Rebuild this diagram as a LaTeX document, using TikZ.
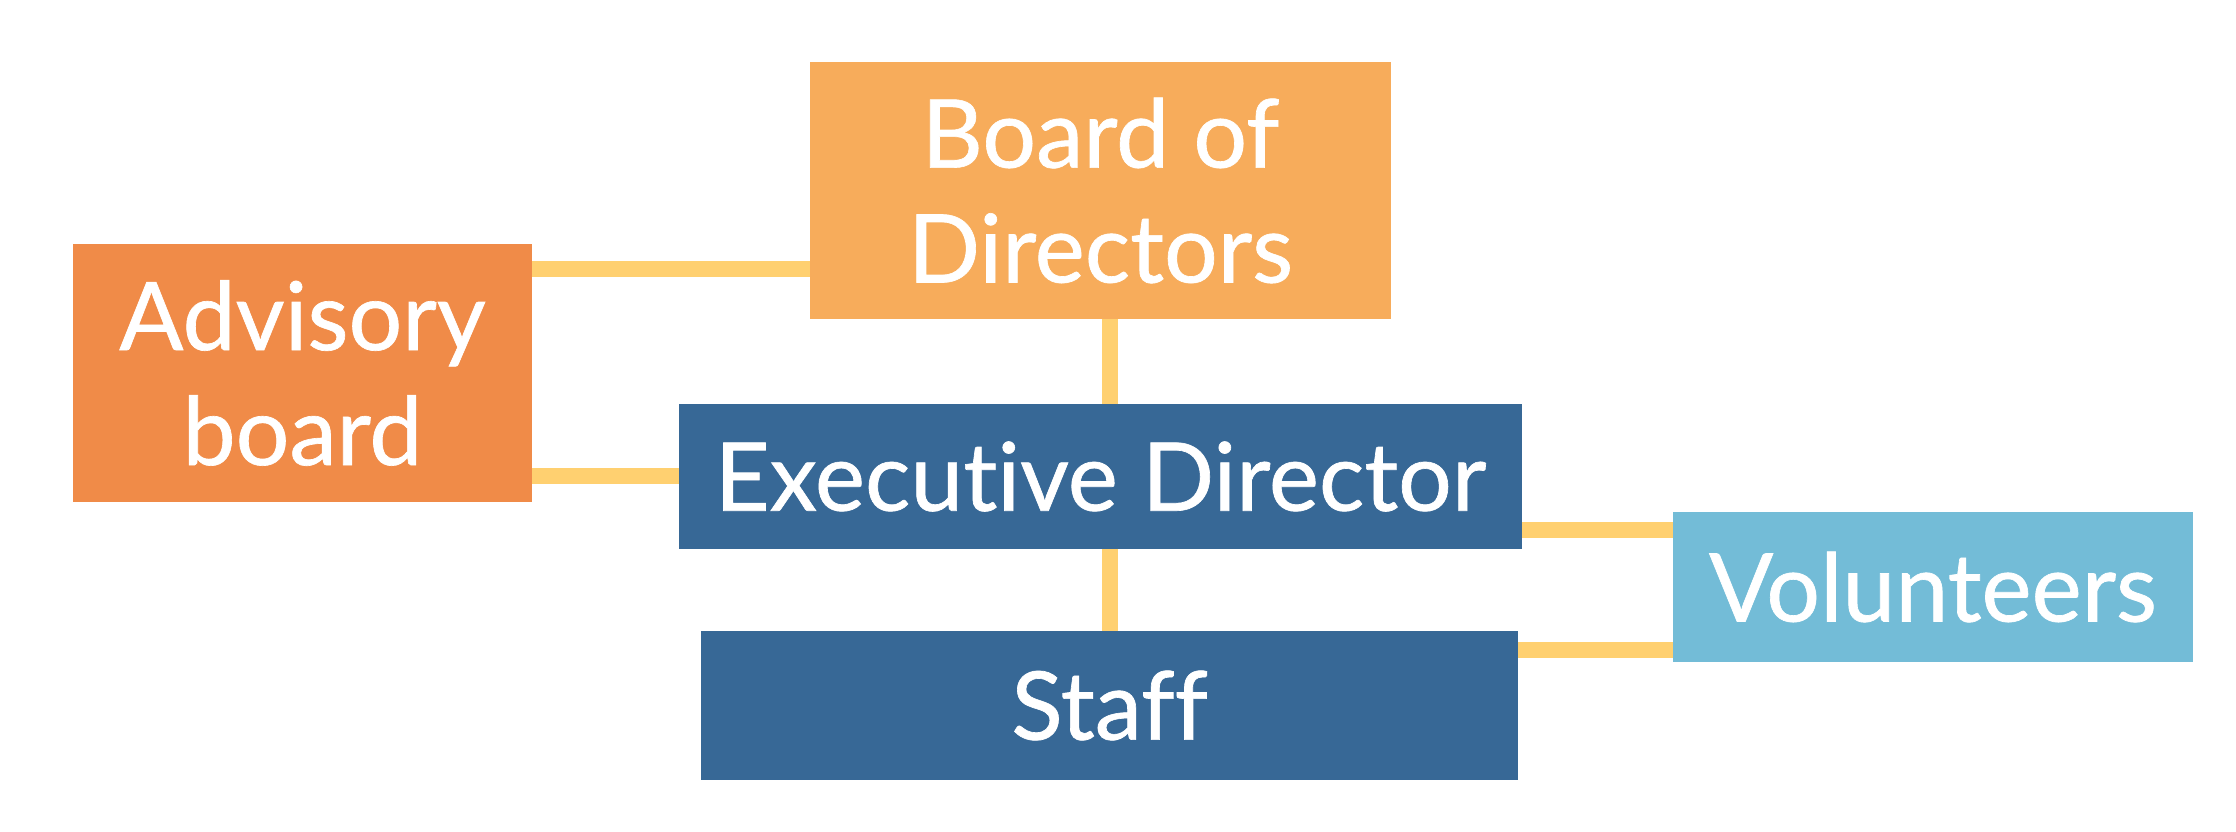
\documentclass[tikz,border=0pt]{standalone}
\usepackage{fontspec}
\setmainfont{Lato}[Ligatures=NoCommon, FakeBold=0.7]
\usepackage{tikz}
\usetikzlibrary{positioning}
\definecolor{boardorange}{RGB}{247,172,91}
\definecolor{advisoryorange}{RGB}{240,139,72}
\definecolor{staffblue}{RGB}{55,104,150}
\definecolor{volunteerblue}{RGB}{115,188,215}
\definecolor{linkyellow}{RGB}{255,208,112}

\begin{document}
\begin{tikzpicture}[
    font=\fontsize{27}{32.7}\selectfont,
    orgbox/.style={text=white, inner sep=0pt, outer sep=0pt, align=center},
    link/.style={draw=linkyellow, line width=1.6mm}
  ]

  % Canvas
  \useasboundingbox (0,0) rectangle (22.36,8.32);

  % Boxes
  \node[orgbox, fill=boardorange, minimum width=5.81cm, minimum height=2.57cm] (board) at (11.005,6.415) {Board of\\Directors};
  \node[orgbox, fill=advisoryorange, minimum width=4.59cm, minimum height=2.58cm] (advisory) at (3.025,4.59) {Advisory\\board};
  \node[orgbox, fill=staffblue, minimum width=8.43cm, minimum height=1.45cm] (exec) at (11.005,3.555) {Executive Director};
  \node[orgbox, fill=staffblue, minimum width=8.17cm, minimum height=1.49cm] (staff) at (11.095,1.265) {Staff};
  \node[orgbox, fill=volunteerblue, minimum width=5.20cm, minimum height=1.50cm] (volunteers) at (19.33,2.45) {Volunteers};

  % Connectors
  \path ([yshift=10.4mm]advisory.east) coordinate (a1);
  \path ([xshift=0.95mm]board.south) coordinate (b1);
  \path ([yshift=5.7mm]volunteers.west) coordinate (v1);
  \path ([yshift=-6.3mm]volunteers.west) coordinate (v2);

  \draw[link] (a1) -- (a1 -| board.west);
  \draw[link] (advisory.east |- exec.west) -- (exec.west);
  \draw[link] (b1) -- (b1 |- exec.north);
  \draw[link] (b1 |- exec.south) -- (b1 |- staff.north);
  \draw[link] (v1 -| exec.east) -- (v1);
  \draw[link] (v2 -| staff.east) -- (v2);

\end{tikzpicture}
\end{document}
